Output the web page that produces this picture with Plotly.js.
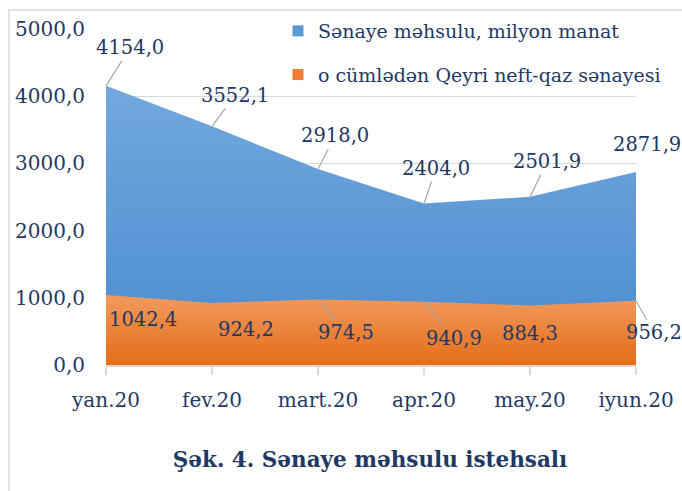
<!DOCTYPE html>
<html>
<head>
<meta charset="utf-8">
<script src="https://cdn.plot.ly/plotly-3.0.1.min.js"></script>
<style>html,body{margin:0;padding:0;background:#fff;}#chart{width:682px;height:491px;}</style>
</head>
<body>
<div id="chart"></div>
<script>
// ---- data ----
const categories = ["yan.20", "fev.20", "mart.20", "apr.20", "may.20", "iyun.20"];
const totalValues = [4154.0, 3552.1, 2918.0, 2404.0, 2501.9, 2871.9];
const nonOilValues = [1042.4, 924.2, 974.5, 940.9, 884.3, 956.2];
const seriesNames = ["Sənaye məhsulu, milyon manat", "o cümlədən Qeyri neft-qaz sənayesi"];
const chartTitle = "Şək. 4. Sənaye məhsulu istehsalı";

// ---- label placement (pixel offsets of labels from their points) ----
const totalLabelOffsets = [[24,-38],[23,-31],[17,-33],[12,-35],[17,-35],[11,-28]];
const totalLeader = [true,true,true,true,true,false];
const nonOilLabelOffsets = [[37,25],[34,27],[28,33],[30,37],[0,28],[18,32]];
const nonOilLeader = [false,false,true,true,false,true];

const navy = "#1F3864";
const fontFam = "DejaVu Serif, serif";
const fmt = v => v.toFixed(1).replace(".", ",");

const traces = [
  {
    type: "scatter", x: categories, y: totalValues, mode: "none",
    fill: "tozeroy", fillcolor: "#5b9bd5",
    fillgradient: {type: "vertical", colorscale: [[0, "#4a8bcf"], [1, "#72a8dd"]]},
    showlegend: false, hoverinfo: "skip"
  },
  {
    type: "scatter", x: categories, y: nonOilValues, mode: "none",
    fill: "tozeroy", fillcolor: "#ed7d31",
    fillgradient: {type: "vertical", colorscale: [[0, "#e56d18"], [1, "#f19a5e"]]},
    showlegend: false, hoverinfo: "skip"
  },
  {
    type: "scatter", x: [null], y: [null], mode: "markers", name: seriesNames[0],
    marker: {symbol: "square", size: 11, color: "#5b9bd5"}, legendgroup: "a"
  },
  {
    type: "scatter", x: [null], y: [null], mode: "markers", name: seriesNames[1],
    marker: {symbol: "square", size: 11, color: "#ed7d31"}, legendgroup: "b"
  }
];

const annotations = [];
categories.forEach((c, i) => {
  annotations.push({
    x: c, y: totalValues[i], text: fmt(totalValues[i]),
    showarrow: true, arrowhead: 0, arrowwidth: 1.2,
    arrowcolor: totalLeader[i] ? "#a6a6a6" : "rgba(0,0,0,0)",
    ax: totalLabelOffsets[i][0], ay: totalLabelOffsets[i][1],
    font: {family: fontFam, size: 19.5, color: navy}
  });
  annotations.push({
    x: c, y: nonOilValues[i], text: fmt(nonOilValues[i]),
    showarrow: true, arrowhead: 0, arrowwidth: 1.2,
    arrowcolor: nonOilLeader[i] ? "#a6a6a6" : "rgba(0,0,0,0)",
    ax: nonOilLabelOffsets[i][0], ay: nonOilLabelOffsets[i][1],
    font: {family: fontFam, size: 19.5, color: navy}
  });
});

const layout = {
  width: 682, height: 491,
  margin: {l: 106, r: 46, t: 29, b: 126, autoexpand: false},
  paper_bgcolor: "#ffffff", plot_bgcolor: "rgba(0,0,0,0)",
  separators: ",.",
  font: {family: fontFam, color: navy},
  title: {
    text: "<b>" + chartTitle + "</b>",
    font: {family: fontFam, size: 21.5, color: navy},
    xref: "paper", x: (370 - 106) / 530, xanchor: "center",
    yref: "container", y: 1 - 459 / 491, yanchor: "middle"
  },
  xaxis: {
    type: "category", range: [0, 5], showgrid: false,
    showline: true, linecolor: "#d9d9d9", linewidth: 1.5,
    ticks: "outside", ticklen: 8, tickcolor: "#d9d9d9", tickwidth: 1.5,
    tickfont: {family: fontFam, size: 20, color: navy},
    ticklabelstandoff: 8, fixedrange: true
  },
  yaxis: {
    range: [0, 5000], dtick: 1000, tick0: 0, tickformat: ".1f",
    showgrid: true, gridcolor: "#d9d9d9", gridwidth: 1.3,
    zeroline: false, showline: false, ticks: "",
    tickfont: {family: fontFam, size: 20, color: navy},
    ticklabelstandoff: 20, fixedrange: true
  },
  legend: {
    xref: "container", yref: "container",
    x: 278 / 682, xanchor: "left", y: 1 - 12 / 491, yanchor: "top",
    bgcolor: "rgba(0,0,0,0)", tracegroupgap: 16,
    font: {family: fontFam, size: 19, color: navy}
  },
  annotations: annotations,
  shapes: [{
    type: "rect", xref: "paper", yref: "paper",
    x0: (9 - 106) / 530, x1: 1.2, y0: -0.5, y1: 1 + 19 / 336,
    line: {color: "#d9d9d9", width: 1.5}, layer: "below"
  }]
};

Plotly.newPlot("chart", traces, layout, {displayModeBar: false, staticPlot: true});
</script>
</body>
</html>
